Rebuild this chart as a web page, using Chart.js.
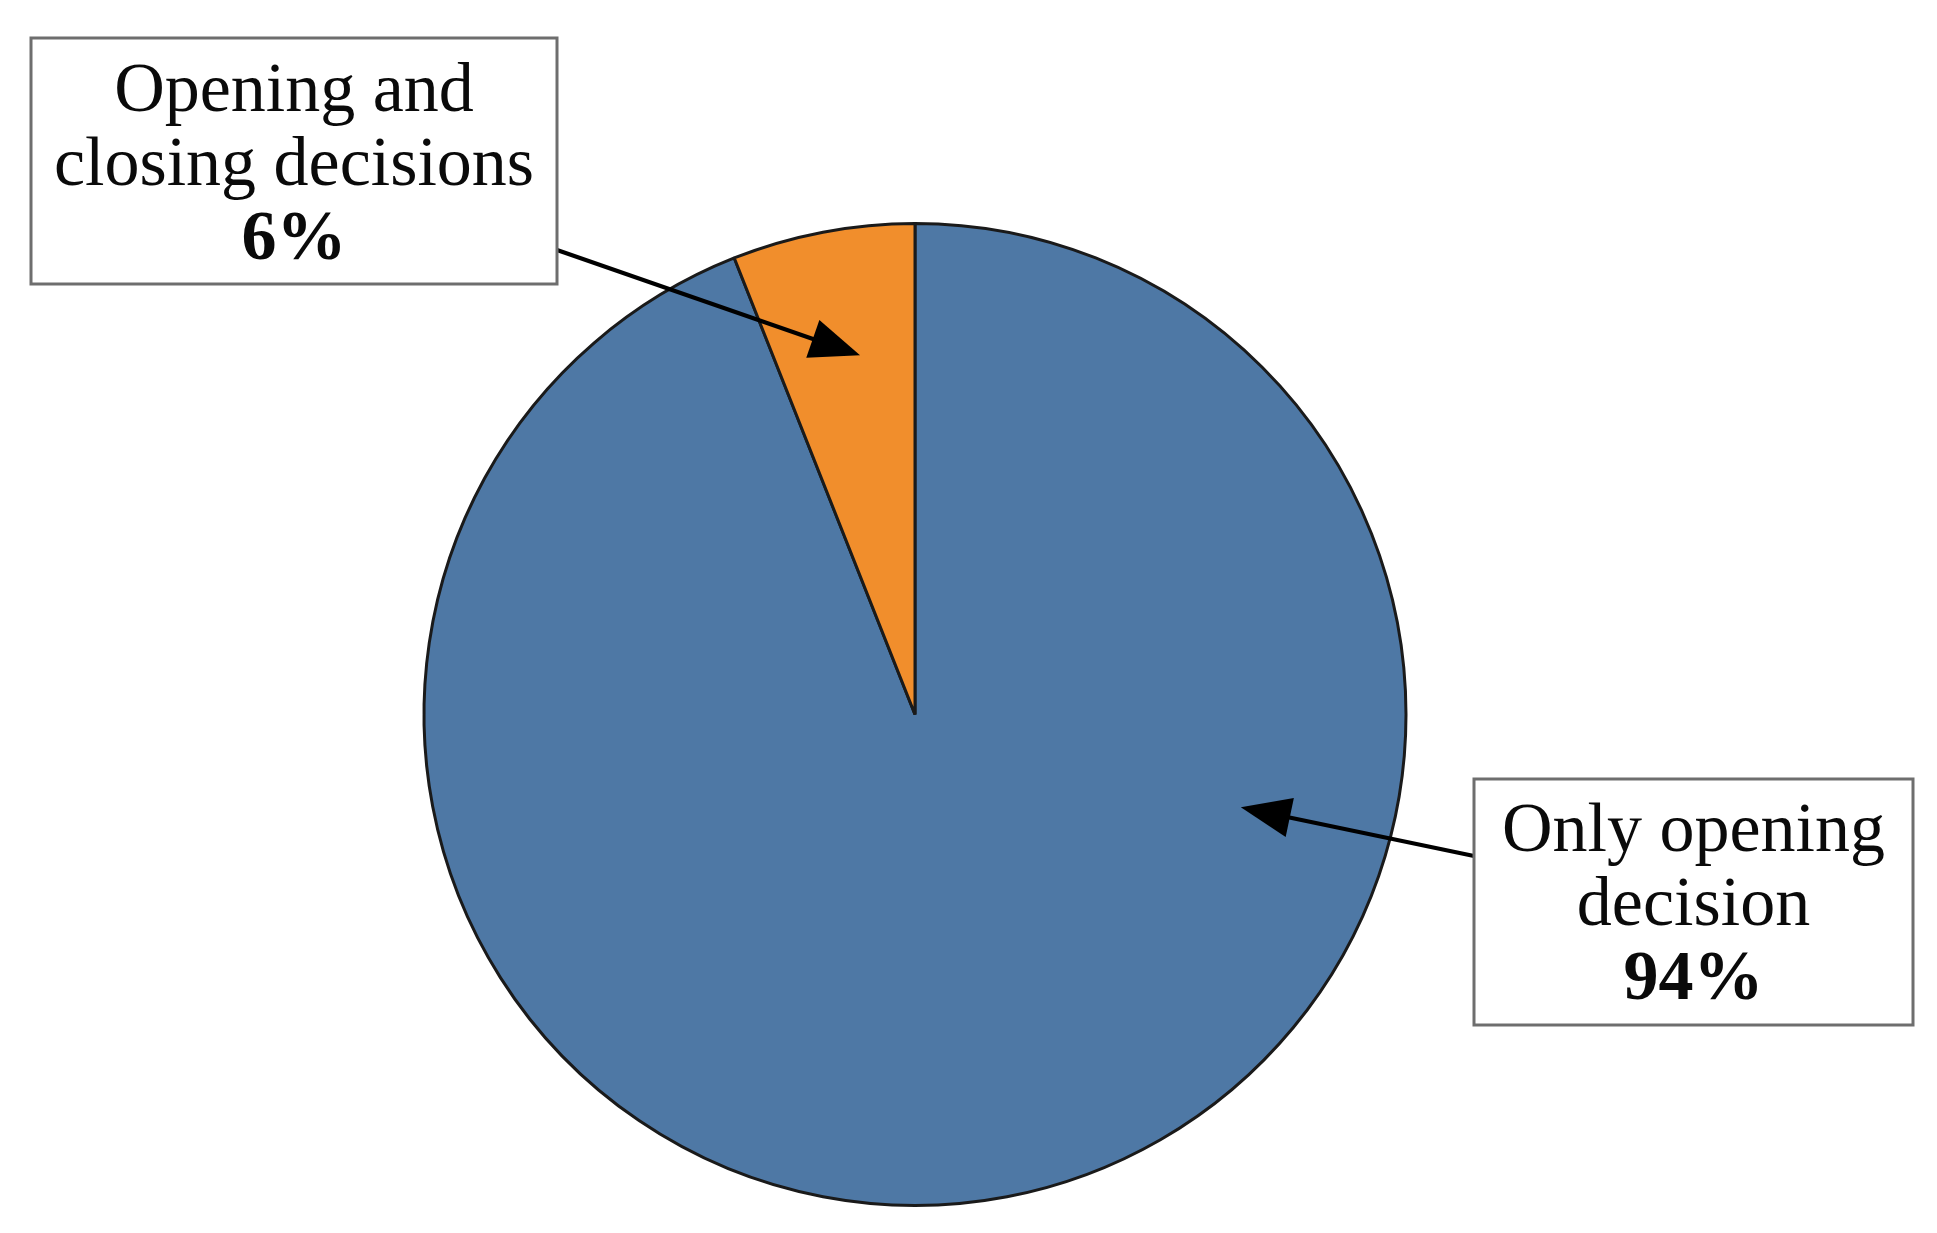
<!DOCTYPE html>
<html>
<head>
<meta charset="utf-8">
<title>Opening and closing decisions</title>
<script src="https://cdn.jsdelivr.net/npm/chart.js@4"></script>
<style>
    html, body { margin: 0; padding: 0; background: #ffffff; }
    #wrap { position: relative; width: 1937px; height: 1233px; }
</style>
</head>
<body>
<div id="wrap"><canvas id="chartContainer" width="1937" height="1233"></canvas></div>
<script>
// data
const categories = ['Only opening decision', 'Opening and closing decisions'];
const shares = [94, 6];
const labelLines = [['Only opening', 'decision'], ['Opening and', 'closing decisions']];

const sliceColors = ['#4e78a5', '#f18e2c'];

// callout boxes: box rect, where the arrow leaves the box, and where it points inside the slice
const callouts = [
    { index: 0, box: [1474, 779, 439, 246], from: [1474, 856], angle: 15.9, depth: 0.69, baseline: 851 },
    { index: 1, box: [31, 38, 526, 246], from: [557, 250], angle: -98.7, depth: 0.74, baseline: 111 }
];

const calloutPlugin = {
    id: 'callouts',
    afterDatasetsDraw(chart) {
        const ctx = chart.ctx;
        const arcs = chart.getDatasetMeta(0).data;
        ctx.save();
        callouts.forEach(c => {
            const arc = arcs[c.index];
            const a = c.angle * Math.PI / 180;
            const tipX = arc.x + Math.cos(a) * arc.outerRadius * c.depth;
            const tipY = arc.y + Math.sin(a) * arc.outerRadius * c.depth;

            // arrow line + head
            const dx = tipX - c.from[0], dy = tipY - c.from[1];
            const len = Math.sqrt(dx * dx + dy * dy);
            const ux = dx / len, uy = dy / len;
            const headLen = 50, headW = 20;
            const bx = tipX - ux * headLen, by = tipY - uy * headLen;
            ctx.strokeStyle = '#000';
            ctx.lineWidth = 4;
            ctx.beginPath();
            ctx.moveTo(c.from[0], c.from[1]);
            ctx.lineTo(bx + ux * 4, by + uy * 4);
            ctx.stroke();
            ctx.fillStyle = '#000';
            ctx.beginPath();
            ctx.moveTo(tipX, tipY);
            ctx.lineTo(bx - uy * headW, by + ux * headW);
            ctx.lineTo(bx + uy * headW, by - ux * headW);
            ctx.closePath();
            ctx.fill();

            // box
            const [x, y, w, h] = c.box;
            ctx.fillStyle = '#fff';
            ctx.fillRect(x, y, w, h);
            ctx.strokeStyle = '#6e6e6e';
            ctx.lineWidth = 3;
            ctx.strokeRect(x, y, w, h);

            // text
            ctx.fillStyle = '#0a0a0a';
            ctx.textAlign = 'center';
            ctx.textBaseline = 'alphabetic';
            const cx = x + w / 2;
            ctx.font = '70px "Liberation Serif"';
            labelLines[c.index].forEach((line, i) => {
                ctx.fillText(line, cx, c.baseline + i * 74);
            });
            ctx.font = 'bold 70px "Liberation Serif"';
            ctx.fillText(shares[c.index] + '%', cx, c.baseline + 2 * 74);
        });
        ctx.restore();
    }
};

const ctx = document.getElementById('chartContainer').getContext('2d');
const chart = new Chart(ctx, {
    type: 'pie',
    data: {
        labels: categories,
        datasets: [{
            data: shares,
            backgroundColor: sliceColors,
            borderColor: '#1a1a1a',
            borderWidth: 3
        }]
    },
    options: {
        responsive: false,
        animation: false,
        layout: {
            padding: { top: 222, bottom: 26, left: 300, right: 407 }
        },
        plugins: {
            legend: { display: false },
            tooltip: { enabled: false }
        }
    },
    plugins: [calloutPlugin]
});
</script>
</body>
</html>
